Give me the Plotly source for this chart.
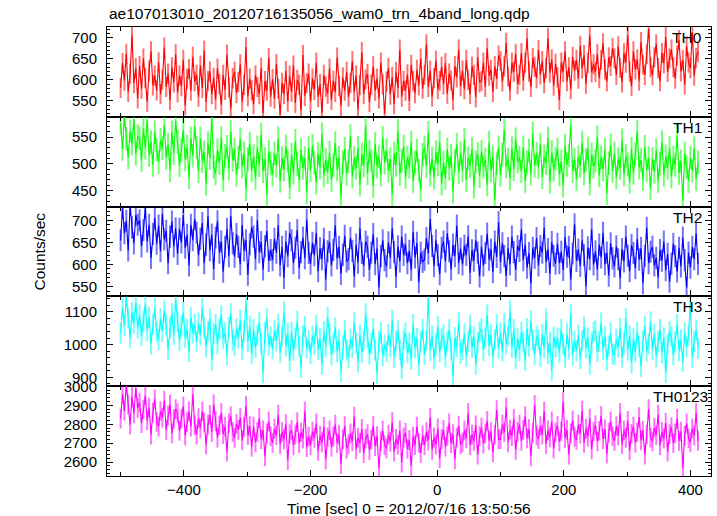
import numpy as np
import plotly.graph_objects as go

# ---- data: 3-s binned light curves (counts/sec) ----
T_START = -500.0   # time of first bin [s]
T_STEP = 3.0       # bin width [s]

TH0 = [
    581, 640, 598, 662, 571, 615, 706, 592, 628, 556,
    633, 579, 651, 604, 548, 622, 668, 587, 610, 575,
    642, 566, 601, 677, 583, 615, 552, 630, 594, 661,
    570, 611, 585, 648, 539, 603, 626, 574, 655, 596,
    612, 560, 634, 581, 670, 547, 598, 620, 566, 605,
    553, 627, 590, 541, 612, 576, 660, 582, 531, 604,
    619, 568, 595, 637, 548, 588, 678, 561, 603, 575,
    542, 611, 583, 566, 629, 521, 597, 574, 652, 560,
    602, 555, 638, 579, 517, 593, 566, 621, 548, 610,
    571, 634, 545, 600, 588, 527, 659, 562, 592, 615,
    548, 603, 576, 641, 559, 590, 522, 612, 584, 567,
    627, 552, 598, 571, 653, 585, 538, 606, 574, 619,
    560, 593, 645, 572, 611, 529, 588, 666, 566, 601,
    614, 547, 589, 632, 574, 603, 556, 641, 590, 520,
    596, 628, 565, 607, 542, 619, 581, 672, 560, 598,
    574, 613, 550, 636, 597, 568, 624, 587, 651, 579,
    612, 685, 583, 622, 560, 604, 646, 578, 598, 631,
    589, 640, 567, 615, 598, 552, 633, 606, 672, 585,
    622, 578, 647, 600, 566, 631, 612, 559, 654, 594,
    598, 641, 583, 676, 610, 624, 571, 633, 602, 658,
    645, 596, 632, 688, 608, 574, 641, 619, 662, 590,
    612, 664, 598, 641, 699, 620, 583, 652, 631, 604,
    671, 613, 645, 592, 628, 700, 617, 649, 586, 638,
    606, 552, 641, 619, 668, 597, 630, 578, 655, 622,
    648, 603, 681, 627, 659, 591, 640, 706, 618, 637,
    619, 662, 604, 648, 687, 625, 596, 654, 633, 676,
    651, 612, 680, 629, 594, 663, 641, 707, 620, 585,
    668, 625, 649, 598, 690, 636, 612, 661, 722, 630,
    611, 654, 685, 628, 597, 664, 640, 702, 619, 651,
    672, 630, 603, 658, 695, 620, 647, 589, 680, 641,
    628, 714, 610, 652, 667,
]

TH1 = [
    576, 528, 590, 547, 512, 561, 538, 583, 519, 552,
    548, 507, 566, 530, 581, 516, 541, 498, 559, 527,
    503, 545, 529, 572, 511, 536, 488, 559, 520, 580,
    541, 497, 526, 563, 508, 532, 475, 548, 515, 570,
    530, 486, 548, 505, 522, 463, 539, 511, 587, 494,
    482, 526, 501, 549, 470, 515, 532, 491, 560, 507,
    527, 480, 512, 546, 495, 520, 452, 509, 538, 488,
    514, 473, 531, 497, 555, 486, 509, 442, 523, 501,
    479, 520, 496, 548, 468, 511, 489, 533, 505, 456,
    517, 483, 543, 499, 470, 526, 492, 511, 446, 530,
    488, 534, 502, 465, 519, 493, 556, 478, 508, 484,
    521, 470, 498, 539, 489, 512, 437, 503, 528, 481,
    505, 552, 476, 511, 492, 530, 461, 518, 497, 571,
    482, 523, 506, 458, 537, 495, 514, 479, 549, 502,
    526, 487, 509, 443, 520, 498, 562, 481, 506, 533,
    475, 512, 494, 540, 468, 503, 525, 488, 451, 517,
    531, 496, 558, 480, 510, 474, 522, 499, 541, 463,
    502, 473, 527, 491, 515, 448, 506, 536, 484, 520,
    488, 545, 470, 511, 496, 528, 457, 503, 519, 477,
    523, 494, 508, 461, 540, 487, 513, 432, 501, 531,
    479, 517, 563, 495, 508, 472, 529, 490, 546, 504,
    512, 486, 531, 468, 503, 525, 481, 557, 497, 519,
    494, 536, 475, 514, 501, 548, 466, 522, 489, 510,
    527, 480, 505, 459, 534, 498, 516, 573, 486, 508,
    471, 513, 496, 540, 482, 507, 529, 463, 518, 495,
    506, 550, 478, 512, 490, 527, 445, 501, 535, 486,
    520, 474, 509, 492, 544, 480, 515, 499, 466, 528,
    483, 518, 561, 493, 507, 471, 532, 488, 511, 454,
    509, 485, 526, 468, 500, 541, 479, 514, 493, 530,
    476, 512, 498, 552, 483, 505, 431, 520, 494, 468,
    512, 487, 529, 471, 503,
]

TH2 = [
    655, 728, 671, 699, 632, 735, 684, 648, 712, 690,
    700, 641, 678, 728, 652, 690, 615, 669, 705, 647,
    688, 630, 715, 657, 676, 603, 663, 697, 641, 682,
    624, 681, 650, 712, 638, 667, 598, 690, 655, 703,
    672, 621, 658, 694, 603, 645, 709, 632, 668, 590,
    661, 698, 627, 652, 584, 640, 681, 619, 710, 648,
    618, 669, 640, 601, 690, 632, 655, 577, 646, 684,
    663, 612, 700, 628, 651, 589, 641, 676, 608, 633,
    610, 658, 627, 689, 598, 640, 570, 652, 619, 671,
    655, 603, 638, 678, 592, 628, 661, 614, 701, 626,
    602, 649, 621, 672, 585, 637, 612, 658, 566, 630,
    651, 598, 633, 689, 614, 640, 579, 622, 665, 607,
    612, 660, 631, 573, 645, 604, 682, 626, 597, 652,
    640, 588, 627, 669, 601, 636, 548, 619, 655, 610,
    596, 650, 615, 682, 628, 572, 641, 607, 663, 622,
    645, 603, 631, 588, 674, 616, 649, 560, 627, 606,
    611, 660, 625, 703, 642, 597, 655, 621, 578, 638,
    652, 607, 671, 630, 589, 645, 619, 688, 603, 636,
    600, 643, 622, 664, 581, 632, 609, 655, 627, 573,
    641, 598, 626, 670, 611, 634, 583, 652, 617, 696,
    605, 648, 619, 574, 637, 600, 663, 628, 588, 642,
    631, 679, 610, 645, 593, 626, 557, 638, 615, 660,
    598, 642, 627, 683, 606, 635, 579, 651, 620, 602,
    647, 603, 629, 588, 662, 618, 640, 566, 625, 691,
    608, 634, 597, 655, 621, 551, 639, 612, 680, 600,
    630, 589, 645, 616, 672, 601, 627, 575, 648, 614,
    596, 641, 612, 569, 635, 607, 663, 620, 585, 644,
    626, 592, 658, 611, 637, 558, 620, 683, 603, 629,
    640, 598, 615, 571, 633, 609, 652, 587, 624, 561,
    602, 647, 619, 584, 638, 596, 661, 610, 548, 627,
    593, 640, 612, 670, 601,
]

TH3 = [
    1035, 1112, 1058, 1145, 1081, 1020, 1097, 1066, 1128, 1049,
    1090, 1027, 1071, 1124, 1043, 1083, 1002, 1062, 1110, 1038,
    1015, 1079, 1040, 1103, 1061, 985, 1052, 1094, 1030, 1137,
    1070, 1012, 1056, 1098, 1021, 1047, 978, 1083, 1035, 1062,
    1008, 1065, 1029, 1110, 1050, 993, 1041, 1078, 952, 1033,
    1061, 1002, 1047, 1089, 1019, 1036, 968, 1052, 1095, 1014,
    997, 1048, 1021, 1074, 985, 1040, 1130, 1009, 1056, 972,
    1046, 991, 1029, 1068, 1004, 915, 1037, 1080, 998, 1024,
    987, 1043, 1011, 1062, 975, 1025, 1101, 996, 1034, 950,
    1038, 982, 1019, 1071, 994, 930, 1027, 1055, 989, 1013,
    972, 1026, 1001, 1060, 985, 1018, 941, 1039, 994, 1083,
    1031, 968, 1004, 1052, 979, 1015, 918, 996, 1044, 983,
    960, 1017, 992, 1066, 1005, 947, 1029, 976, 1012, 1095,
    1022, 971, 1003, 1049, 984, 912, 1010, 1037, 966, 998,
    978, 1030, 993, 1074, 961, 1011, 1042, 985, 926, 1016,
    1036, 975, 1004, 955, 1061, 990, 1019, 937, 1008, 1047,
    969, 1012, 1140, 983, 1026, 957, 1001, 1055, 978, 1017,
    1029, 962, 1008, 1045, 987, 905, 1021, 994, 1068, 973,
    985, 1033, 964, 1010, 1059, 992, 1024, 941, 1006, 1039,
    1048, 983, 1021, 1090, 997, 1030, 962, 1014, 1061, 988,
    1035, 980, 1064, 1002, 1027, 1103, 991, 1046, 958, 1019,
    982, 1037, 1008, 951, 1049, 995, 1072, 1013, 970, 1026,
    1015, 964, 1031, 990, 1078, 972, 1007, 921, 1024, 993,
    1020, 975, 1046, 1002, 961, 1033, 986, 1093, 968, 1011,
    981, 1029, 957, 1012, 1054, 990, 1021, 940, 1005, 1038,
    1043, 978, 1009, 1066, 985, 1024, 952, 996, 1035, 972,
    970, 1016, 992, 1049, 962, 1005, 1080, 983, 1027, 944,
    1018, 977, 1038, 995, 934, 1011, 1057, 980, 1003, 1070,
    986, 1031, 963, 1009, 1046, 975, 1022, 916, 1000, 1040,
    1024, 968, 1007, 1061, 982, 1015, 948, 1036, 993, 1028,
    1130, 962, 1010, 1045, 988,
]

TH0123 = [
    2830, 2960, 2872, 3010, 2905, 2798, 2945, 2858, 2990, 2885,
    2915, 2806, 2878, 2952, 2820, 2890, 2745, 2863, 2932, 2812,
    2788, 2870, 2835, 2925, 2770, 2846, 2905, 2752, 2829, 2880,
    2858, 2765, 2830, 2895, 2740, 2812, 2868, 2787, 2960, 2795,
    2745, 2832, 2780, 2868, 2810, 2692, 2798, 2850, 2758, 2905,
    2815, 2730, 2795, 2860, 2748, 2788, 2655, 2806, 2842, 2760,
    2728, 2802, 2770, 2835, 2715, 2786, 2898, 2742, 2790, 2680,
    2788, 2705, 2760, 2832, 2721, 2768, 2630, 2752, 2815, 2738,
    2702, 2776, 2742, 2850, 2695, 2760, 2720, 2801, 2611, 2748,
    2770, 2688, 2745, 2812, 2700, 2758, 2725, 2868, 2679, 2735,
    2690, 2762, 2728, 2805, 2660, 2740, 2704, 2786, 2615, 2731,
    2768, 2681, 2735, 2798, 2700, 2745, 2590, 2720, 2790, 2672,
    2695, 2752, 2710, 2840, 2668, 2730, 2702, 2776, 2648, 2725,
    2748, 2664, 2720, 2790, 2685, 2738, 2570, 2711, 2766, 2690,
    2672, 2745, 2708, 2812, 2655, 2723, 2692, 2768, 2598, 2730,
    2755, 2670, 2718, 2580, 2735, 2690, 2788, 2702, 2648, 2742,
    2688, 2760, 2714, 2835, 2665, 2730, 2692, 2778, 2620, 2722,
    2770, 2682, 2738, 2805, 2700, 2748, 2615, 2730, 2792, 2694,
    2705, 2768, 2726, 2860, 2690, 2745, 2712, 2795, 2640, 2738,
    2782, 2698, 2752, 2818, 2715, 2760, 2652, 2745, 2875, 2720,
    2720, 2800, 2758, 2890, 2705, 2772, 2738, 2828, 2665, 2760,
    2798, 2712, 2770, 2842, 2725, 2776, 2630, 2755, 2903, 2741,
    2722, 2790, 2746, 2868, 2695, 2768, 2730, 2815, 2672, 2758,
    2792, 2708, 2762, 2920, 2728, 2770, 2640, 2752, 2821, 2735,
    2718, 2798, 2750, 2872, 2702, 2776, 2735, 2830, 2668, 2762,
    2796, 2710, 2765, 2845, 2722, 2774, 2645, 2756, 2815, 2738,
    2712, 2790, 2740, 2860, 2695, 2768, 2728, 2818, 2662, 2750,
    2788, 2702, 2758, 2838, 2715, 2766, 2640, 2747, 2880, 2730,
    2710, 2782, 2742, 2851, 2690, 2760, 2724, 2808, 2655, 2748,
    2785, 2700, 2752, 2830, 2712, 2762, 2570, 2740, 2805, 2725,
    2705, 2778, 2740, 2860, 2712,
]

BAND_NAMES = ["TH0", "TH1", "TH2", "TH3", "TH0123"]
BAND_ERRORS = [24, 22, 25, 32, 52]          # typical 1-sigma error per bin
Y_RANGES = [[512, 726], [420, 588], [528, 731], [873, 1147], [2527, 3001]]
Y_MAJOR = [50, 50, 50, 100, 100]
Y_MINOR = [10, 10, 10, 20, 20]
X_RANGE = [-521.5, 432.5]

TITLE = "ae107013010_20120716135056_wam0_trn_4band_long.qdp"
X_TITLE = "Time [sec] 0 = 2012/07/16 13:50:56"
Y_TITLE = "Counts/sec"

COLORS = ["#ff0000", "#00ff00", "#0000ff", "#00ffff", "#ff00ff"]
LIGHT = ["rgba(255,0,0,0.55)", "rgba(0,255,0,0.55)", "rgba(0,0,255,0.55)",
         "rgba(0,255,255,0.55)", "rgba(255,0,255,0.55)"]

series = [TH0, TH1, TH2, TH3, TH0123]
FONT = "Liberation Sans, Arial, Helvetica, sans-serif"

fig = go.Figure()
for i, vals in enumerate(series):
    t = T_START + T_STEP * np.arange(len(vals))
    fig.add_trace(go.Scatter(
        x=t, y=vals, mode="lines",
        line=dict(color=COLORS[i], width=1.1),
        error_y=dict(type="constant", value=BAND_ERRORS[i], color=LIGHT[i],
                     thickness=2, width=0),
        xaxis="x" if i == 0 else f"x{i+1}",
        yaxis="y" if i == 0 else f"y{i+1}",
        showlegend=False, hoverinfo="skip",
    ))

layout = dict(
    width=717, height=516,
    margin=dict(l=107, r=6, t=27, b=40),
    paper_bgcolor="white", plot_bgcolor="white",
    font=dict(family=FONT, size=15, color="black"),
    showlegend=False,
)

n = len(series)
for i in range(n):
    xs = "" if i == 0 else str(i + 1)
    top = 1 - i / n
    bot = 1 - (i + 1) / n
    layout["xaxis" + xs] = dict(
        domain=[0, 1], range=X_RANGE, anchor="y" + xs,
        showline=True, linecolor="black", linewidth=1, mirror="allticks",
        ticks="inside", ticklen=6, tickcolor="black", tickwidth=1,
        tick0=0, dtick=200,
        minor=dict(dtick=100, tick0=0, ticklen=4, ticks="inside",
                   tickcolor="black", showgrid=False),
        showgrid=False, zeroline=False,
        showticklabels=(i == n - 1),
        tickfont=dict(size=15),
        **({} if i == 0 else {"matches": "x"}),
    )
    layout["yaxis" + xs] = dict(
        domain=[bot, top], range=Y_RANGES[i], anchor="x" + xs,
        showline=True, linecolor="black", linewidth=1, mirror="allticks",
        ticks="inside", ticklen=6, tickcolor="black", tickwidth=1,
        tick0=0, dtick=Y_MAJOR[i],
        minor=dict(dtick=Y_MINOR[i], tick0=0, ticklen=3, ticks="inside",
                   tickcolor="black", showgrid=False),
        showgrid=False, zeroline=False,
        tickfont=dict(size=15),
        ticklabelstandoff=6,
    )

fig.update_layout(**layout)

ann = []
ann.append(dict(text=TITLE, x=0, y=1.029, xref="paper", yref="paper",
                xanchor="left", yanchor="middle", showarrow=False,
                font=dict(size=15.5)))
ann.append(dict(text=X_TITLE, x=0.5, y=-0.072, xref="paper", yref="paper",
                xanchor="center", yanchor="middle", showarrow=False,
                font=dict(size=15.5)))
ann.append(dict(text=Y_TITLE, x=-0.111, y=0.5, xref="paper", yref="paper",
                xanchor="center", yanchor="middle", textangle=-90,
                showarrow=False, font=dict(size=15.5)))
label_x = [0.988, 0.988, 0.988, 0.988, 0.998]
for i, name in enumerate(BAND_NAMES):
    ann.append(dict(text=name, x=label_x[i], y=1 - i / n - 0.0235,
                    xref="paper", yref="paper", xanchor="right",
                    yanchor="middle", showarrow=False, font=dict(size=15.5)))
fig.update_layout(annotations=ann)

fig.write_html(
    "out.html",
    config={"displayModeBar": False, "staticPlot": True},
    post_script="document.body.style.margin='0';document.body.style.padding='0';",
)
